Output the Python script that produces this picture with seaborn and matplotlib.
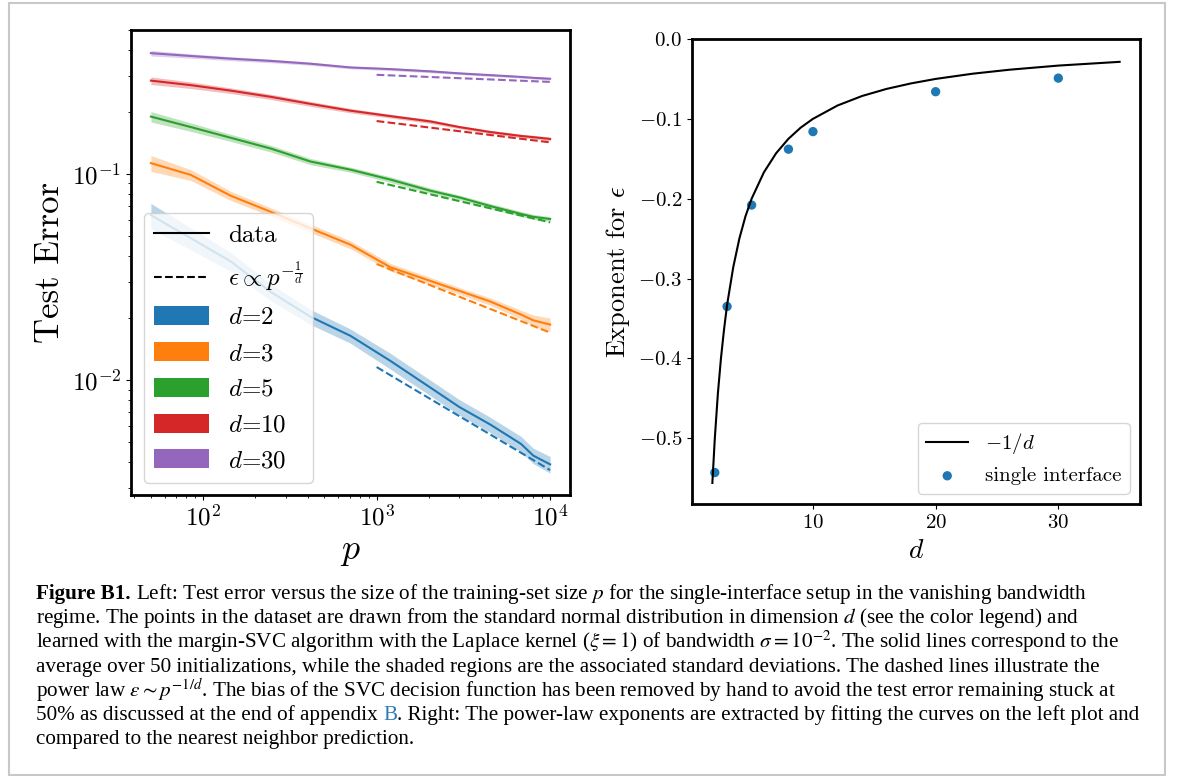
import matplotlib
matplotlib.use('Agg')
import matplotlib.pyplot as plt
from matplotlib.lines import Line2D
from matplotlib.patches import Patch, Rectangle
import seaborn as sns

# training set sizes and mean test error for each dimension
p_train = [50, 85, 144, 245, 416, 707, 1200, 2040, 3000, 4500, 6800, 8000, 10000]

err_d2 = [0.0632, 0.0488, 0.0377, 0.0268, 0.0203, 0.0164, 0.0124, 0.0092, 0.0074, 0.0061, 0.0049, 0.0043, 0.0039]
err_d3 = [0.113, 0.099, 0.0785, 0.0656, 0.0545, 0.0454, 0.0353, 0.0303, 0.0271, 0.0241, 0.0208, 0.0195, 0.0186]
err_d5 = [0.190, 0.169, 0.150, 0.133, 0.115, 0.105, 0.094, 0.083, 0.077, 0.070, 0.064, 0.062, 0.0605]
err_d10 = [0.284, 0.270, 0.254, 0.237, 0.219, 0.203, 0.191, 0.180, 0.169, 0.160, 0.153, 0.151, 0.148]
err_d30 = [0.386, 0.374, 0.363, 0.354, 0.343, 0.329, 0.323, 0.315, 0.308, 0.302, 0.296, 0.293, 0.290]

# standard deviations (shaded bands)
std_d2 = [0.0088, 0.006, 0.004, 0.0025, 0.0017, 0.0013, 0.0011, 0.0008, 0.00064, 0.00052, 0.00043, 0.00037, 0.00036]
std_d3 = [0.010, 0.006, 0.004, 0.003, 0.0025, 0.002, 0.0015, 0.0012, 0.001, 0.001, 0.001, 0.0012, 0.0014]
std_d5 = [0.011, 0.008, 0.006, 0.005, 0.004, 0.003, 0.003, 0.0025, 0.002, 0.002, 0.0018, 0.0017, 0.0016]
std_d10 = [0.012, 0.010, 0.008, 0.007, 0.006, 0.005, 0.004, 0.004, 0.003, 0.003, 0.003, 0.003, 0.003]
std_d30 = [0.012, 0.009, 0.008, 0.007, 0.006, 0.005, 0.005, 0.005, 0.004, 0.004, 0.004, 0.004, 0.004]

# power law p^(-1/d) guides
p_fit = [1000, 10000]
fit_d2 = [0.01157, 0.00366]
fit_d3 = [0.0366, 0.0170]
fit_d5 = [0.0917, 0.0583]
fit_d10 = [0.1808, 0.1425]
fit_d30 = [0.303, 0.280]

dims = [2, 3, 5, 10, 30]
colors = ['#1f77b4', '#ff7f0e', '#2ca02c', '#d62728', '#9467bd']

# right panel: extracted exponents
d_points = [2, 3, 5, 8, 10, 20, 30]
expo_points = [-0.543, -0.335, -0.208, -0.138, -0.116, -0.066, -0.049]

d_curve = [1.8, 2, 2.25, 2.5, 2.75, 3, 3.5, 4, 4.5, 5, 6, 7, 8, 9, 10, 12, 14, 16, 18, 20, 23, 26, 30, 35]
expo_curve = [-0.556, -0.5, -0.444, -0.4, -0.364, -0.333, -0.286, -0.25, -0.222, -0.2, -0.167, -0.143,
              -0.125, -0.111, -0.1, -0.0833, -0.0714, -0.0625, -0.0556, -0.05, -0.0435, -0.0385, -0.0333, -0.0286]

plt.rcParams['font.family'] = 'serif'
plt.rcParams['font.serif'] = ['cmr10']
plt.rcParams['mathtext.fontset'] = 'cm'
plt.rcParams['axes.formatter.use_mathtext'] = True
plt.rcParams['axes.unicode_minus'] = False

fig = plt.figure(figsize=(11.82, 7.76), dpi=100)
W, H = 1182, 776
ax1 = fig.add_axes([131 / W, 1 - 495 / H, 439 / W, 465 / H])
ax2 = fig.add_axes([692 / W, 1 - 504 / H, 448 / W, 465 / H])

# Left panel
errs = [err_d2, err_d3, err_d5, err_d10, err_d30]
stds = [std_d2, std_d3, std_d5, std_d10, std_d30]
fits = [fit_d2, fit_d3, fit_d5, fit_d10, fit_d30]
for d, c, e, s, f in zip(dims, colors, errs, stds, fits):
    lo = [m - v for m, v in zip(e, s)]
    hi = [m + v for m, v in zip(e, s)]
    ax1.fill_between(p_train, lo, hi, color=c, alpha=0.3, linewidth=0)
    sns.lineplot(x=p_train, y=e, ax=ax1, color=c, linewidth=1.5, legend=False)
    sns.lineplot(x=p_fit, y=f, ax=ax1, color=c, linewidth=1.5, linestyle='--', legend=False)

ax1.set_xscale('log')
ax1.set_yscale('log')
ax1.set_xlim(38.4, 13020)
ax1.set_ylim(0.00277, 0.5)
ax1.set_xlabel('$p$', fontsize=26)
ax1.set_ylabel('Test Error', fontsize=25)
ax1.tick_params(axis='both', which='major', labelsize=18)

handles = [Line2D([], [], color='black', linewidth=1.5),
           Line2D([], [], color='black', linewidth=1.5, linestyle='--')]
labels = ['data', r'$\epsilon \propto p^{-\frac{1}{d}}$']
for d, c in zip(dims, colors):
    handles.append(Patch(facecolor=c, edgecolor='none'))
    labels.append('$d$=%d' % d)
ax1.legend(handles, labels, loc='lower left', fontsize=18, handlelength=2.2, handleheight=0.8)

# Right panel
sns.lineplot(x=d_curve, y=expo_curve, ax=ax2, color='black', linewidth=1.5, label='$-1/d$', sort=False)
sns.scatterplot(x=d_points, y=expo_points, ax=ax2, color='#1f77b4', s=45, edgecolor='none',
                label='single interface')
ax2.set_ylim(top=0.0)
ax2.set_xlabel('$d$', fontsize=20)
ax2.set_ylabel(r'Exponent for $\epsilon$', fontsize=19)
ax2.tick_params(axis='both', labelsize=15)
ax2.legend(loc='lower right', fontsize=15)

for ax in (ax1, ax2):
    for sp in ax.spines.values():
        sp.set_linewidth(2)
        sp.set_color('black')

# caption
cap_font = 'Liberation Serif'
cap_size = 15.2
x0 = 36 / W
base = [599, 623, 648, 672, 696, 720, 744]
kw = dict(fontsize=cap_size, family=cap_font, math_fontfamily='stix', va='baseline', ha='left')
renderer = fig.canvas.get_renderer()


def width_of(s, **extra):
    t = fig.text(0, 0, s, **{**kw, **extra})
    w = t.get_window_extent(renderer).width
    t.remove()
    return w


space = width_of('a a') - width_of('aa')

fig.text(x0, 1 - base[0] / H, 'Figure B1.', fontweight='bold', **kw)
wb = width_of('Figure B1.', fontweight='bold')
fig.text(x0 + (wb + space) / W, 1 - base[0] / H,
         'Left: Test error versus the size of the training-set size $p$ for the single-interface '
         'setup in the vanishing bandwidth', **kw)
fig.text(x0, 1 - base[1] / H,
         'regime. The points in the dataset are drawn from the standard normal distribution in '
         'dimension $d$ (see the color legend) and', **kw)
fig.text(x0, 1 - base[2] / H,
         r'learned with the margin-SVC algorithm with the Laplace kernel ($\xi = 1$) of bandwidth '
         r'$\sigma = 10^{-2}$. The solid lines correspond to the', **kw)
fig.text(x0, 1 - base[3] / H,
         'average over 50 initializations, while the shaded regions are the associated standard '
         'deviations. The dashed lines illustrate the', **kw)
fig.text(x0, 1 - base[4] / H,
         r'power law $\varepsilon \sim p^{-1/d}$. The bias of the SVC decision function has been '
         'removed by hand to avoid the test error remaining stuck at', **kw)
pre = '50% as discussed at the end of appendix '
fig.text(x0, 1 - base[5] / H, pre, **kw)
w_preB = width_of(pre + 'B')
w_B = width_of('B')
fig.text(x0 + (w_preB - w_B) / W, 1 - base[5] / H, 'B', color='#2b7bb9', **kw)
fig.text(x0 + w_preB / W, 1 - base[5] / H,
         '. Right: The power-law exponents are extracted by fitting the curves on the left plot and',
         **kw)
fig.text(x0, 1 - base[6] / H, 'compared to the nearest neighbor prediction.', **kw)

# light grey frame around the whole figure
fig.patches.append(Rectangle((9 / W, 1 - 775 / H), (1165 - 9) / W, (775 - 3) / H,
                             transform=fig.transFigure, fill=False, edgecolor='#c8c8c8',
                             linewidth=1.5))

fig.savefig('out.png', dpi=100)
